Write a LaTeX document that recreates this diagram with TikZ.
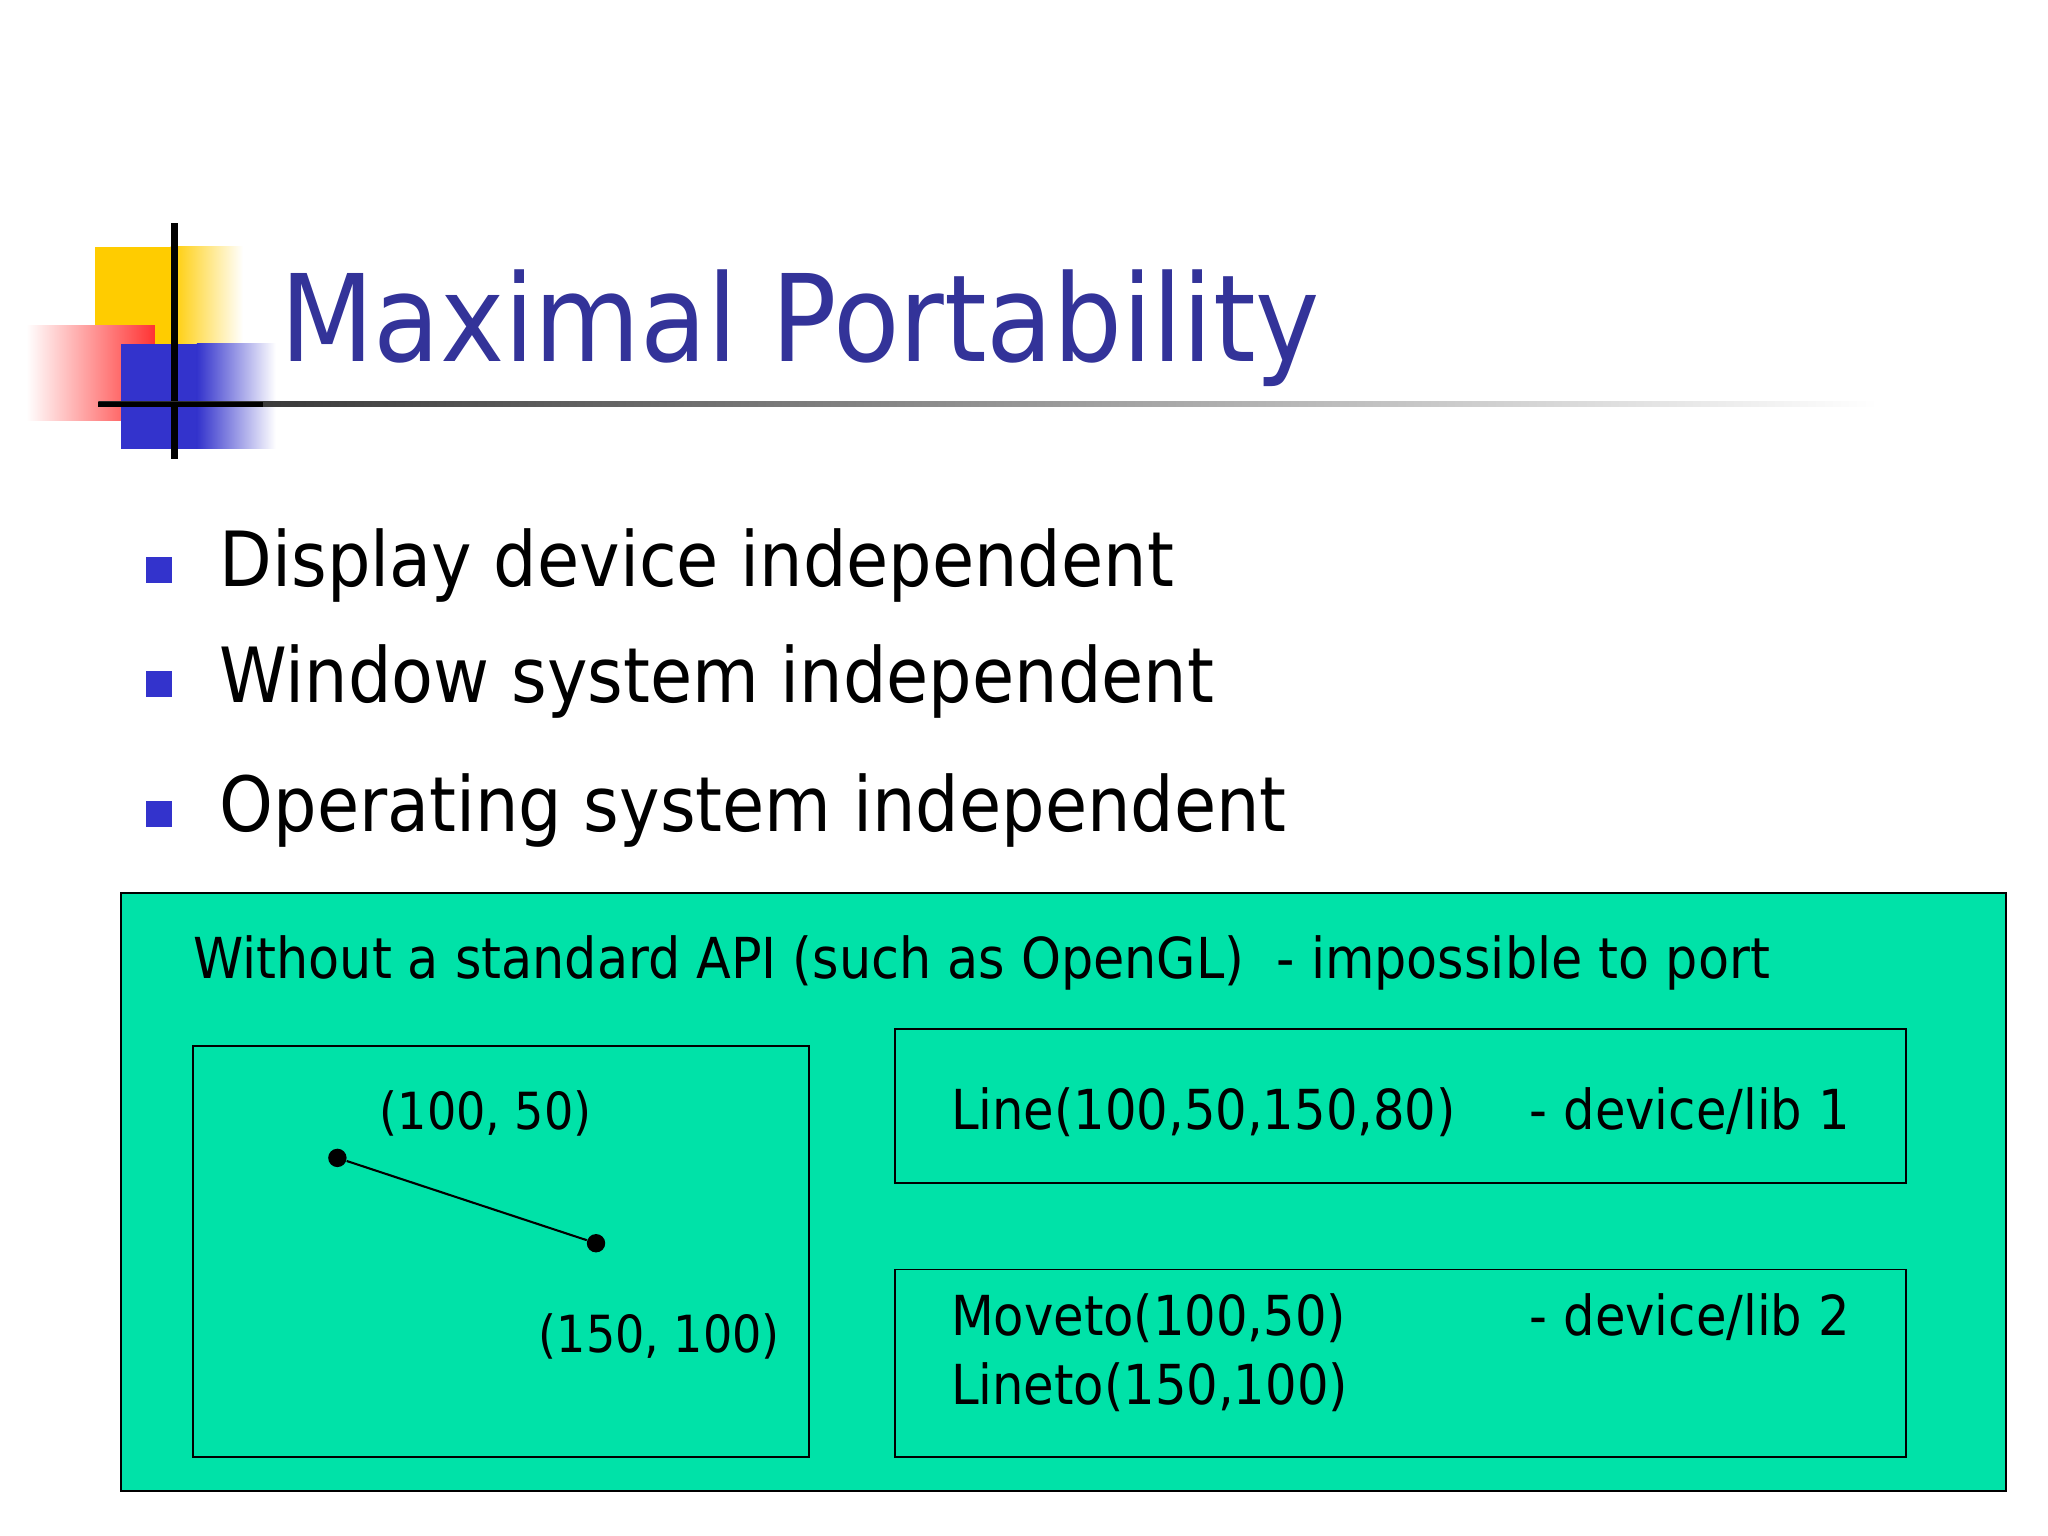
\documentclass[tikz,border=0pt]{standalone}
\usepackage{fontspec}
\setmainfont{DejaVu Sans Condensed}
\usetikzlibrary{shapes.geometric}
\definecolor{titleblue}{RGB}{51,51,153}
\definecolor{bulletblue}{RGB}{51,51,204}
\definecolor{boxgreen}{RGB}{0,226,168}
\definecolor{logoyellow}{RGB}{255,204,0}
\definecolor{logored}{RGB}{255,51,51}
\tikzset{
  txt/.style={anchor=base west, inner sep=0pt},
  bul/.style={fill=bulletblue, minimum size=10pt, inner sep=0pt},
  frame/.style={draw=black, line width=0.7pt},
  dot/.style={circle, fill=black, inner sep=0pt, minimum size=7pt}
}
\begin{document}
\begin{tikzpicture}[x=0.5pt,y=-0.5pt]
\useasboundingbox (0,0) rectangle (1560,1170);
\fill[white] (0,0) rectangle (1560,1170);
% logo
\fill[logoyellow] (72,188) rectangle (130,262);
\shade[left color=logoyellow, right color=white] (130,188) rectangle (185,262);
\shade[left color=white, right color=logored] (20,248) rectangle (118,320);
\fill[bulletblue] (92,262) rectangle (150,342);
\shade[left color=bulletblue, right color=white] (150,262) rectangle (210,342);
\draw[line width=2.5pt] (133,170) -- (133,350);
\shade[left color=black!85, right color=white] (75,306) rectangle (1430,310);
\fill[black] (75,306) rectangle (200,310);
% title
\node[txt, text=titleblue, font=\fontsize{46}{52}\selectfont] (title) at (213,275) {Maximal Portability};
% bullets
\node[bul] (b1) at (121,434) {};
\node[txt, font=\fontsize{29}{34}\selectfont] (t1) at (167,447) {Display device independent};
\node[bul] (b2) at (121,521) {};
\node[txt, font=\fontsize{29}{34}\selectfont] (t2) at (167,535) {Window system independent};
\node[bul] (b3) at (121,620) {};
\node[txt, font=\fontsize{29}{34}\selectfont] (t3) at (167,633) {Operating system independent};
% green box
\draw[frame, fill=boxgreen] (92,680) rectangle (1528,1136);
\node[txt, font=\fontsize{21.5}{25}\selectfont] (hdr) at (147,745) {Without a standard API (such as OpenGL)\ \ - impossible to port};
\draw[frame] (147,797) rectangle (616,1110);
\draw[frame] (682,784) rectangle (1452,901);
\draw[frame] (682,967) rectangle (1452,1110);
\node[txt, font=\fontsize{19.5}{23}\selectfont] (p1) at (289,860) {(100, 50)};
\node[txt, font=\fontsize{19.5}{23}\selectfont] (p2) at (410,1030) {(150, 100)};
\node[dot] (d1) at (257,882) {};
\node[dot] (d2) at (454,947) {};
\draw[line width=0.8pt] (d1) -- (d2);
\node[txt, font=\fontsize{21}{25}\selectfont] (l1) at (724,860) {Line(100,50,150,80)};
\node[txt, font=\fontsize{21}{25}\selectfont] (l1b) at (1165,860) {- device/lib 1};
\node[txt, font=\fontsize{21}{25}\selectfont] (l2) at (724,1017) {Moveto(100,50)};
\node[txt, font=\fontsize{21}{25}\selectfont] (l3) at (724,1070) {Lineto(150,100)};
\node[txt, font=\fontsize{21}{25}\selectfont] (l2b) at (1165,1017) {- device/lib 2};
\end{tikzpicture}
\end{document}
